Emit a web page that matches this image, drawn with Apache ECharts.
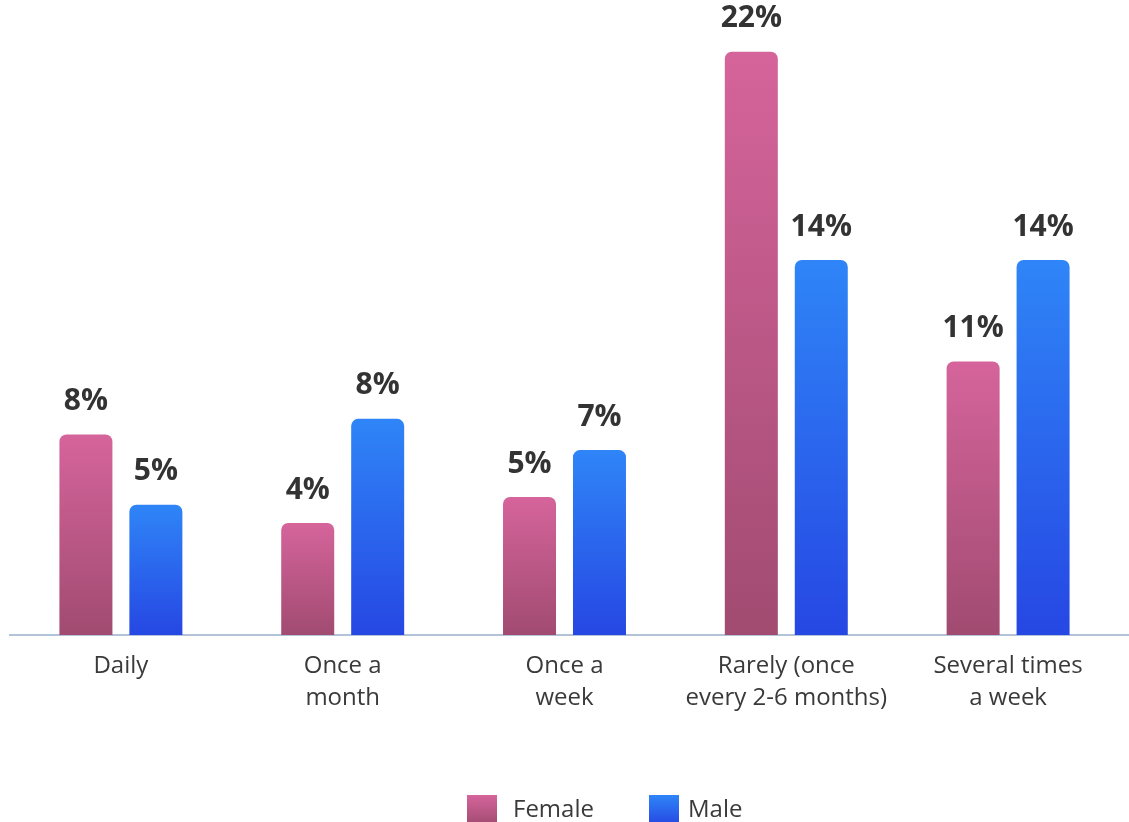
<!DOCTYPE html>
<html>
<head>
<meta charset="utf-8">
<script src="https://cdn.jsdelivr.net/npm/echarts@6/dist/echarts.min.js"></script>
<style>
  html, body { margin: 0; padding: 0; background: #ffffff; }
  #chart { width: 1129px; height: 822px; }
</style>
</head>
<body>
<div id="chart"></div>
<script>
// Frequency categories on the x axis
const categories = [
  'Daily',
  'Once a\nmonth',
  'Once a\nweek',
  'Rarely (once\nevery 2-6 months)',
  'Several times\na week'
];

// Share of respondents (%) per frequency
const femaleValues = [7.7, 4.3, 5.3, 22.4, 10.5];
const maleValues = [5.0, 8.3, 7.1, 14.4, 14.4];

const seriesNames = ['Female', 'Male'];

const FONT = '"Open Sans", "Noto Sans", sans-serif';
const W = 1129, H = 822;
const GRID_BOTTOM = 187;

function vGrad(top, bottom) {
  return new echarts.graphic.LinearGradient(0, 0, 0, 1, [
    { offset: 0, color: top },
    { offset: 1, color: bottom }
  ]);
}

const femaleFill = vGrad('#d5649b', '#a14b71');
const maleFill = vGrad('#2f85f7', '#2647e3');

const pctLabel = {
  show: true,
  position: 'top',
  distance: 18,
  fontFamily: FONT,
  fontWeight: 'bold',
  fontSize: 30,
  color: '#333333',
  formatter: p => Math.round(p.value) + '%'
};

function legendFor(name, left, textGap) {
  return {
    data: [name],
    left: left,
    top: 795,
    padding: 0,
    itemWidth: 30,
    itemHeight: 30,
    icon: 'rect',
    textStyle: { fontFamily: FONT, fontSize: 24, color: '#3a3a3a', padding: [0, 0, 0, textGap] }
  };
}

const chart = echarts.init(document.getElementById('chart'), null, { renderer: 'canvas' });

chart.setOption({
  animation: false,
  backgroundColor: '#ffffff',
  grid: { left: 10, right: 10, top: 10, bottom: GRID_BOTTOM, containLabel: false },
  // baseline rule running across the full width
  graphic: [{
    type: 'line',
    shape: { x1: 9, y1: H - GRID_BOTTOM, x2: W, y2: H - GRID_BOTTOM },
    style: { stroke: '#b3c4d8', lineWidth: 2 },
    z: 1
  }],
  legend: [
    legendFor(seriesNames[0], 467, 11),
    legendFor(seriesNames[1], 649, 4)
  ],
  xAxis: {
    type: 'category',
    data: categories,
    axisLine: { show: false },
    axisTick: { show: false },
    axisLabel: {
      fontFamily: FONT,
      fontSize: 24,
      lineHeight: 32,
      color: '#3a3a3a',
      margin: 15,
      interval: 0
    }
  },
  yAxis: {
    type: 'value',
    min: 0,
    max: 24,
    show: false,
    splitLine: { show: false }
  },
  series: [
    {
      name: seriesNames[0],
      type: 'bar',
      data: femaleValues,
      barWidth: 53,
      barGap: '32%',
      z: 2,
      itemStyle: { color: femaleFill, borderRadius: [7, 7, 0, 0] },
      label: pctLabel
    },
    {
      name: seriesNames[1],
      type: 'bar',
      data: maleValues,
      barWidth: 53,
      z: 2,
      itemStyle: { color: maleFill, borderRadius: [7, 7, 0, 0] },
      label: pctLabel
    }
  ]
});
</script>
</body>
</html>
